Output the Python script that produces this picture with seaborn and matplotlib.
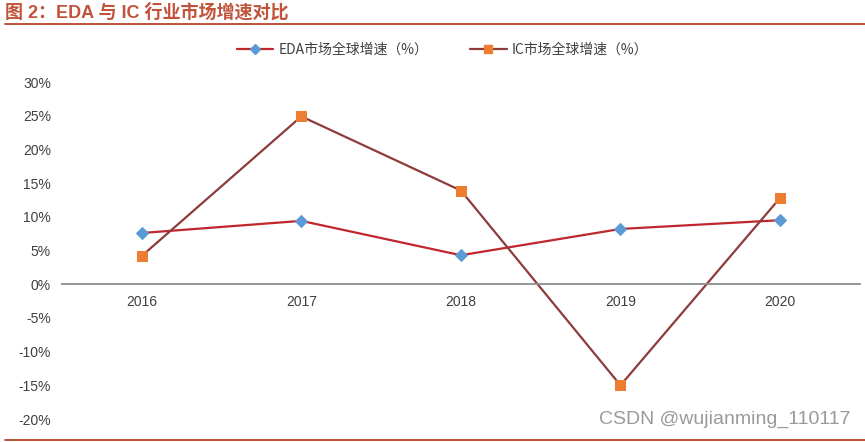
import numpy as np
import pandas as pd
import matplotlib
matplotlib.use("Agg")
import matplotlib.pyplot as plt
import seaborn as sns
from matplotlib.lines import Line2D

# ── Data ─────────────────────────────────────────────────
years   = ["2016", "2017", "2018", "2019", "2020"]
eda     = [7.6, 9.4, 4.3, 8.2, 9.5]
ic      = [4.2, 24.9, 13.9, -15.0, 12.8]
y_ticks = [-20, -15, -10, -5, 0, 5, 10, 15, 20, 25, 30]

EDA_LABEL = "EDA市场全球增速（%）"
IC_LABEL  = "IC市场全球增速（%）"
TITLE     = "图 2：EDA 与 IC 行业市场增速对比"

sns.set_style("white")
plt.rcParams["font.family"] = ["Liberation Sans", "Noto Sans CJK SC", "DejaVu Sans"]

df = pd.DataFrame({"pos": np.arange(len(years)), "eda": eda, "ic": ic})

fig = plt.figure(figsize=(8.65, 4.42), dpi=100)
ax = fig.add_axes([0.0717, 0.052, 0.9223, 0.7624])

sns.lineplot(data=df, x="pos", y="eda", ax=ax, color="#c0272d", linewidth=1.6,
             marker="D", markersize=6, markerfacecolor="#5b9bd5",
             markeredgecolor="#5b9bd5")
sns.lineplot(data=df, x="pos", y="ic", ax=ax, color="#8e3b3b", linewidth=1.6,
             marker="s", markersize=7, markerfacecolor="#ed7d31",
             markeredgecolor="#ed7d31")

ax.set_xlim(-0.5, len(years) - 0.5)
ax.set_ylim(y_ticks[0], y_ticks[-1])
ax.set_yticks(y_ticks)
ax.set_yticklabels([f"{t}%" for t in y_ticks])
ax.set_xticks(df["pos"])
ax.set_xticklabels(years)
ax.set_xticks(np.arange(-0.5, len(years)), minor=True)
ax.set_xlabel(""); ax.set_ylabel("")

for s in ["top", "right", "left"]:
    ax.spines[s].set_visible(False)
ax.spines["bottom"].set_position(("data", 0))
ax.spines["bottom"].set_color("#8c8c8c")
ax.spines["bottom"].set_linewidth(1.3)

ax.tick_params(axis="x", which="major", length=0, pad=8,
               labelsize=10, labelcolor="#404040")
ax.tick_params(axis="x", which="minor", direction="in", length=4,
               width=1.1, color="#8c8c8c")
ax.tick_params(axis="y", length=0, pad=8, labelsize=10, labelcolor="#404040")

handles = [
    Line2D([], [], color="#c0272d", lw=1.6, marker="D", markersize=5,
           markerfacecolor="#5b9bd5", markeredgecolor="#5b9bd5"),
    Line2D([], [], color="#8e3b3b", lw=1.6, marker="s", markersize=6,
           markerfacecolor="#ed7d31", markeredgecolor="#ed7d31"),
]
fig.legend(handles, [EDA_LABEL, IC_LABEL], loc="center", ncol=2,
           bbox_to_anchor=(0.512, 0.887), frameon=False,
           handlelength=2.6, handletextpad=0.4, columnspacing=3.0,
           labelcolor="#404040",
           prop={"family": ["Noto Sans CJK SC", "DejaVu Sans"], "size": 10})

# title and rules
fig.text(0.006, 0.971, TITLE, ha="left", va="center", fontsize=13,
         fontweight="bold", color="#c0533a",
         family=["Liberation Sans", "Noto Sans CJK SC"])
fig.add_artist(Line2D([0.006, 1], [0.946, 0.946], color="#c0533a", lw=1.4,
                      transform=fig.transFigure))
fig.add_artist(Line2D([0.006, 1], [0.005, 0.005], color="#c0533a", lw=1.4,
                      transform=fig.transFigure))

fig.text(0.983, 0.05, "CSDN @wujianming_110117", ha="right", va="center",
         fontsize=14, color="#9a9a9a")

plt.savefig("out.png", dpi=100)
